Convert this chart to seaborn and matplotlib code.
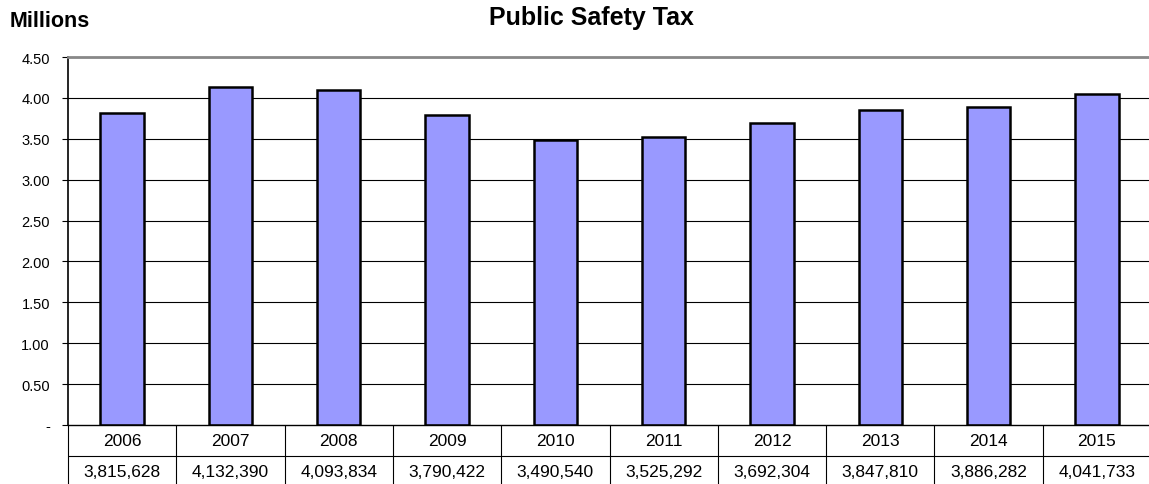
import matplotlib
matplotlib.use("Agg")
import matplotlib.pyplot as plt
import seaborn as sns
import pandas as pd

years = ["2006", "2007", "2008", "2009", "2010", "2011", "2012", "2013", "2014", "2015"]
values = [3815628, 4132390, 4093834, 3790422, 3490540, 3525292, 3692304, 3847810, 3886282, 4041733]
yticks = [0, 0.5, 1.0, 1.5, 2.0, 2.5, 3.0, 3.5, 4.0, 4.5]
ytick_labels = ["-", "0.50", "1.00", "1.50", "2.00", "2.50", "3.00", "3.50", "4.00", "4.50"]

sns.set_theme(style="white")
plt.rcParams['font.family'] = ['Liberation Sans', 'DejaVu Sans']
plt.rcParams['text.color'] = 'black'
plt.rcParams['ytick.color'] = 'black'
plt.rcParams['ytick.labelcolor'] = 'black'

df = pd.DataFrame({"year": years, "millions": [v / 1e6 for v in values]})

W, H = 1149, 485
fig = plt.figure(figsize=(W / 100, H / 100), dpi=100)
left, right, top, bottom = 68, 1151, 58, 426
ax = fig.add_axes([left / W, 1 - bottom / H, (right - left) / W, (bottom - top) / H])

ax.set_axisbelow(True)
for t in yticks[1:]:
    ax.axhline(t, color="black", lw=0.8, zorder=0)

sns.barplot(data=df, x="year", y="millions", color="#9999FF", saturation=1,
            width=0.4, edgecolor="black", linewidth=1.8, ax=ax, zorder=2)

ax.set_ylim(0, 4.5)
ax.set_xlim(-0.5, 9.5)
ax.set_yticks(yticks)
ax.set_yticklabels(ytick_labels, fontsize=10.5, color="black")
ax.tick_params(axis="y", left=True, length=4, width=0.8, pad=9, color="black")
ax.tick_params(axis="x", bottom=False, labelbottom=False)
ax.set_xlabel("")
ax.set_ylabel("")

ax.spines["right"].set_visible(False)
ax.spines["top"].set_color("#888888")
ax.spines["top"].set_linewidth(2)
ax.spines["left"].set_color("black")
ax.spines["left"].set_linewidth(1.2)
ax.spines["bottom"].set_color("black")
ax.spines["bottom"].set_linewidth(1.0)

# data table below the axis
trans = ax.get_xaxis_transform()
rh = 31 / (bottom - top)
n = len(years)
for i in range(n + 1):
    ax.plot([i - 0.5, i - 0.5], [0, -2 * rh], transform=trans, color="black",
            lw=0.8, clip_on=False)
for yy in [-rh, -2 * rh]:
    ax.plot([-0.5, n - 0.5], [yy, yy], transform=trans, color="black",
            lw=0.8, clip_on=False)
for i, (yr, v) in enumerate(zip(years, values)):
    ax.text(i, -rh / 2, yr, transform=trans, ha="center", va="center",
            fontsize=12.5, color="black", clip_on=False)
    ax.text(i, -1.5 * rh, f"{v:,}", transform=trans, ha="center", va="center",
            fontsize=12.5, color="black", clip_on=False)

fig.text(591.5 / W, 1 - 25 / H, "Public Safety Tax", ha="center", va="baseline",
         fontsize=18, fontweight="bold", color="black")
fig.text(10 / W, 1 - 27 / H, "Millions", ha="left", va="baseline",
         fontsize=15.5, fontweight="bold", color="black")

fig.savefig("out.png", dpi=100)
